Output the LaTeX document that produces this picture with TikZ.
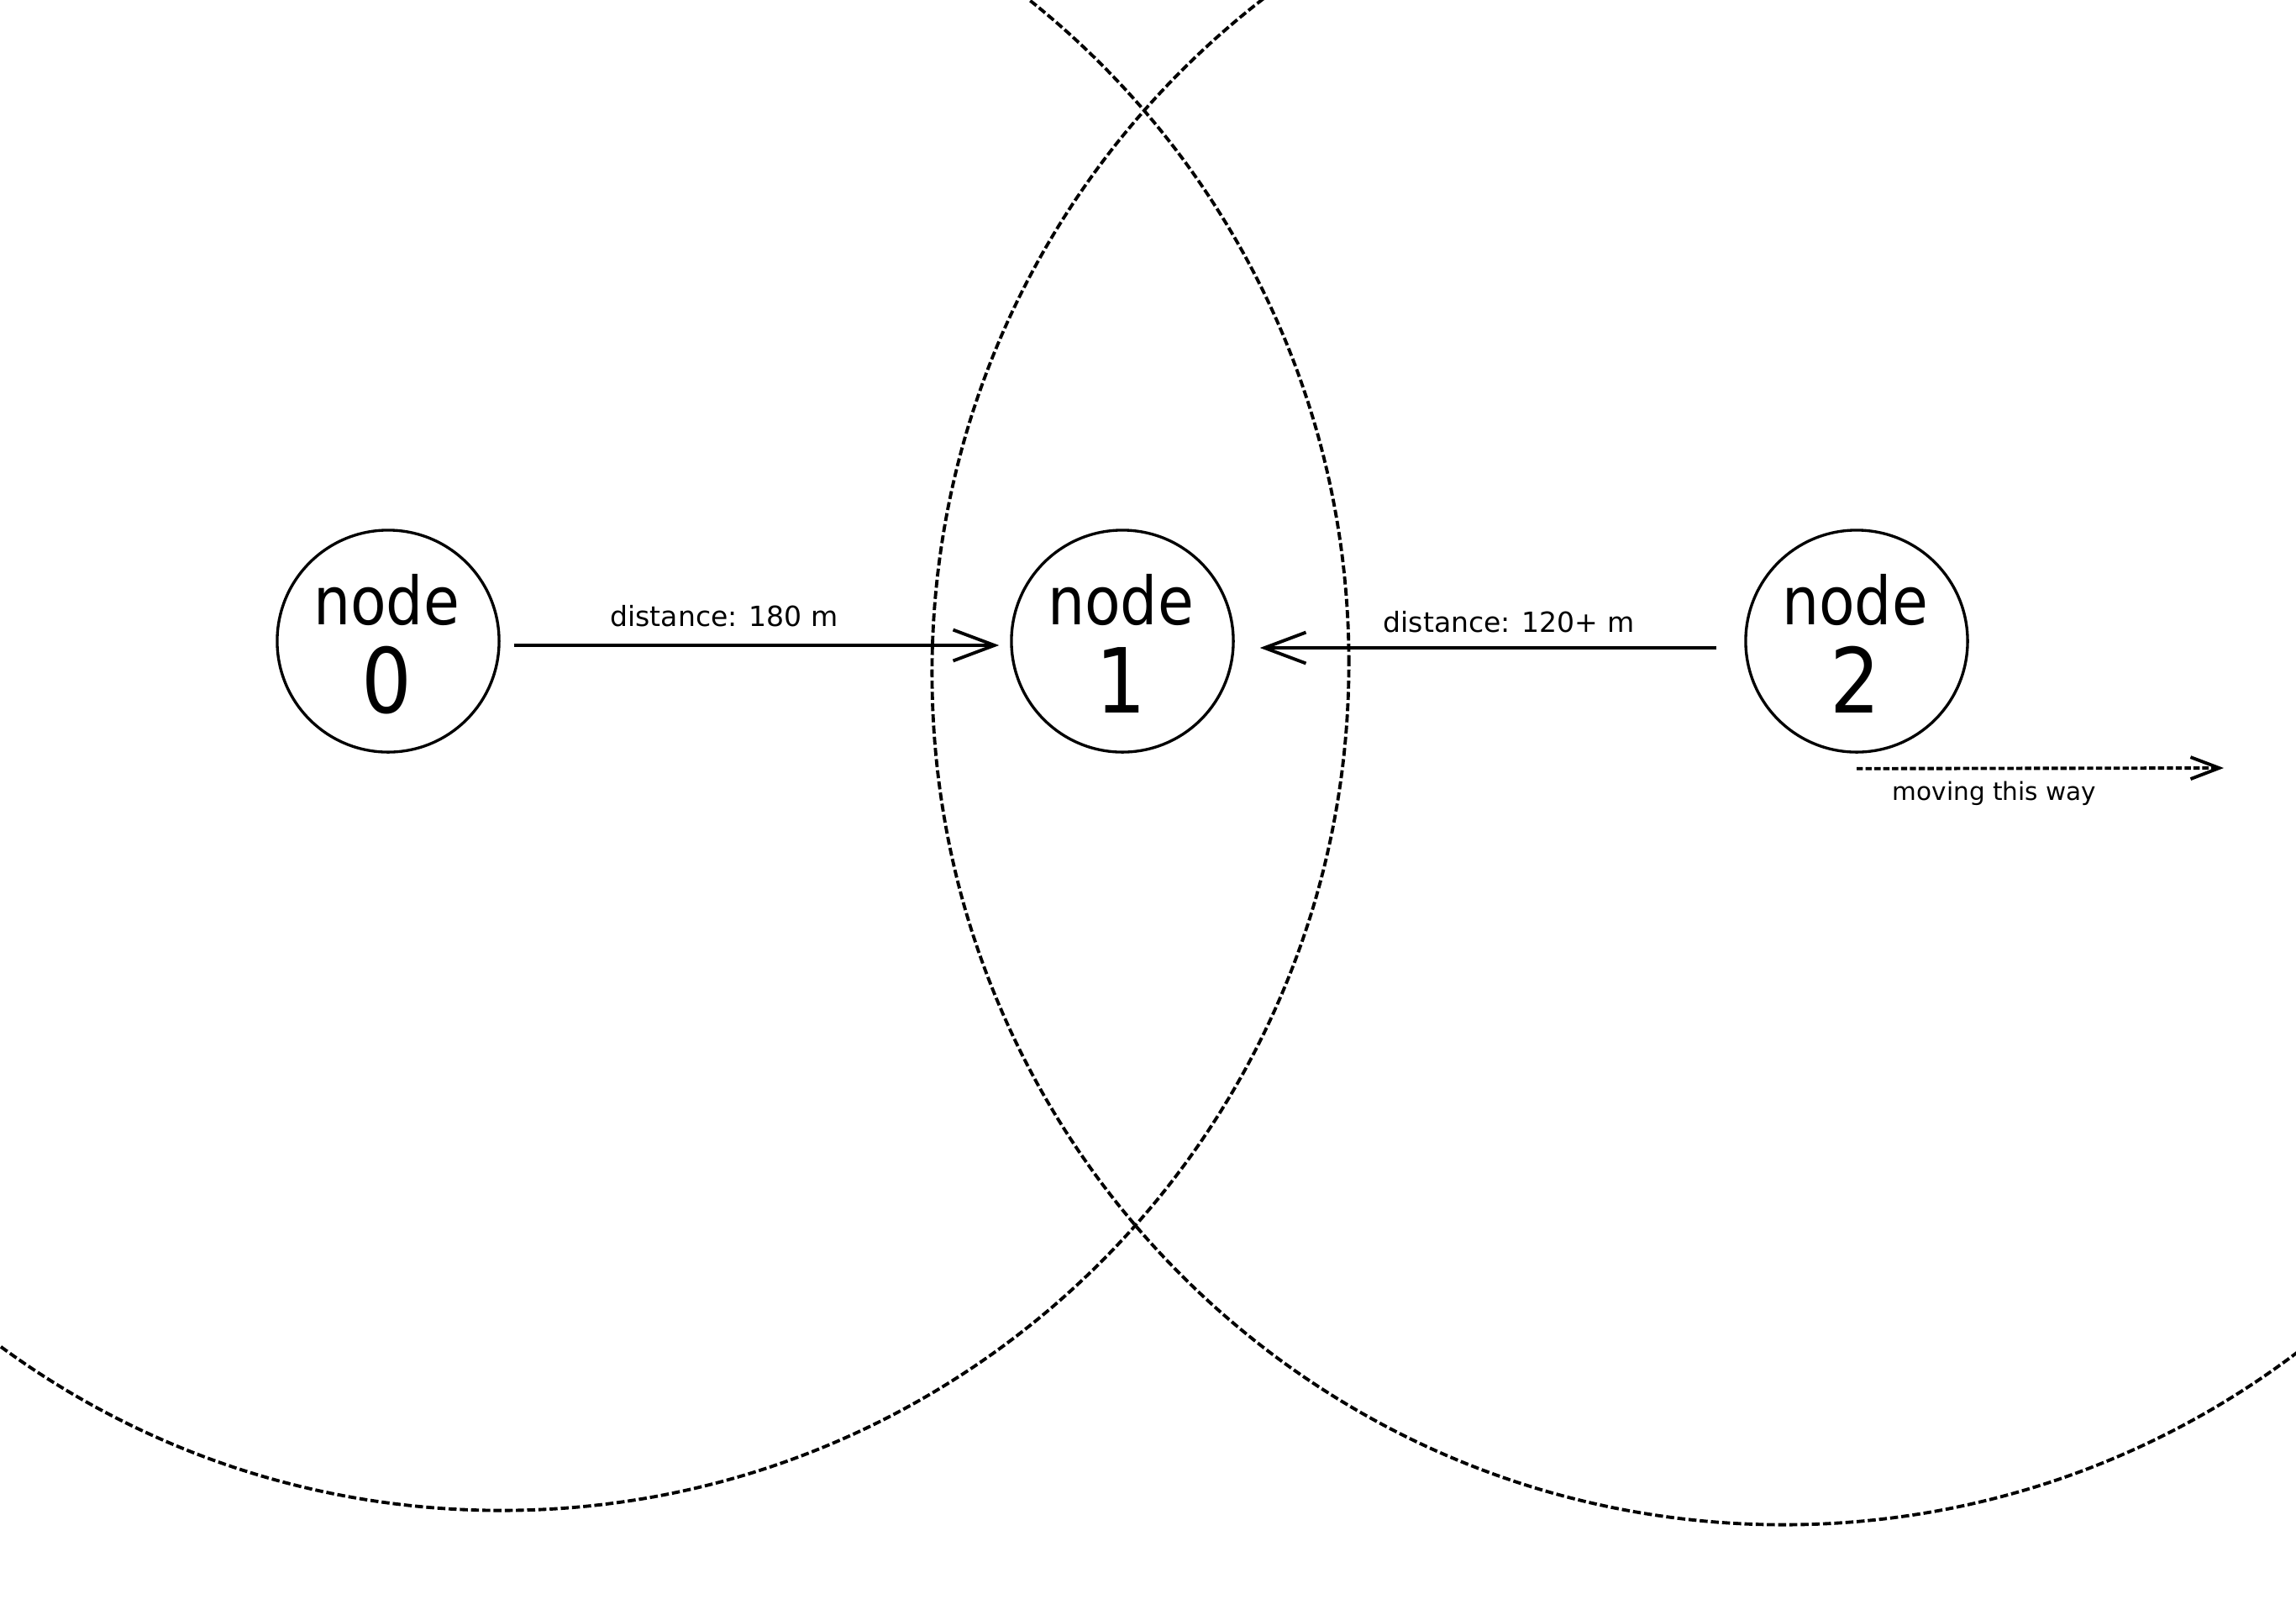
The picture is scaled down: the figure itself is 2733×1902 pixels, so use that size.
\documentclass[tikz,border=0pt]{standalone}
\usepackage{fontspec}
\setmainfont{DejaVu Sans}
\newfontfamily\nodefont[FakeStretch=0.88]{DejaVu Sans}
\usetikzlibrary{arrows.meta,calc}

\tikzset{
  station/.style={circle, draw, line width=0.95pt, minimum size=2.64cm, inner sep=0pt},
  nodeword/.style={anchor=base, inner sep=0pt, font=\nodefont\fontsize{22.5}{24}\selectfont},
  nodenum/.style={anchor=base, inner sep=0pt, font=\nodefont\fontsize{30.4}{32}\selectfont},
  lbl/.style={anchor=base, inner sep=0pt, font=\fontsize{9.4}{11}\selectfont},
  movelbl/.style={anchor=base, inner sep=0pt, font=\fontsize{8.4}{10}\selectfont},
  radiorange/.style={line width=1.1pt, dash pattern=on 2.7pt off 1.1pt},
  link/.style={line width=1.1pt, -{Straight Barb[length=14pt, width=10.5pt]}},
  drift/.style={line width=1.1pt, dash pattern=on 2.1pt off 0.9pt,
                -{Straight Barb[length=9.7pt, width=7.4pt, line width=1.1pt]}}
}

\begin{document}
\begin{tikzpicture}[x=0.01cm, y=-0.01cm]
  \useasboundingbox (0,0) rectangle (2733,1902);
  \fill[white] (0,0) rectangle (2733,1902);

  % radio ranges
  \draw[radiorange] (597,789) circle [radius=10.08cm];
  \draw[radiorange] (2123,801) circle [radius=10.13cm];

  % stations
  \node[station] (n0) at (462,763) {};
  \node[station] (n1) at (1336,763) {};
  \node[station] (n2) at (2210,763) {};

  \foreach \k in {0,1,2}{
    \node[nodeword] (w\k) at ($(n\k.center)+(-2,-20)$) {node};
    \node[nodenum]  (d\k) at ($(n\k.center)+(-2,85)$) {\k};
  }

  % distance links
  \draw[link] ($(n0.east)+(16,5)$) -- ($(n1.west)+(-13,5)$);
  \draw[link] ($(n2.west)+(-33,8)$) -- ($(n1.east)+(30,8)$);
  \node[lbl] (l01) at (862,745) {distance: 180 m};
  \node[lbl] (l21) at (1796,752) {distance: 120+ m};

  % direction of travel
  \coordinate (go) at (2647,914);
  \draw[drift] ($(n2.south)+(0,18)$) -- (go);
  \node[movelbl] (mv) at (2374,952) {moving this way};
\end{tikzpicture}
\end{document}
